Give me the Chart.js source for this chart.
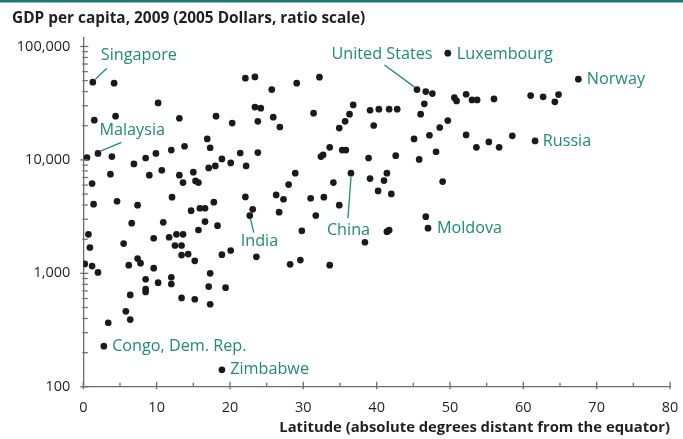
<!DOCTYPE html>
<html><head><meta charset="utf-8">
<script src="https://cdn.jsdelivr.net/npm/chart.js@4.4.0/dist/chart.umd.min.js"></script>
<style>html,body{margin:0;padding:0;background:#fff;}#wrap{width:683px;height:439px;position:relative;}</style>
</head><body><div id="wrap"><canvas id="c"></canvas></div>
<script>
// ---- data (latitude in absolute degrees, GDP per capita 2005 $) ----
const latitude = [4.2,10.2,1.5,4.4,13.1,18.1,20.3,16.9,17.3,13.8,12.0,9.9,8.5,0.5,3.9,18.9,21.4,22.1,23.4,25.7,29.1,32.2,23.4,24.2,23.8,25.9,26.8,31.4,36.8,36.3,35.7,34.9,39.1,40.3,41.7,39.6,23.8,33.6,32.7,32.4,35.3,35.8,38.9,46.7,47.6,46.5,46.0,42.8,50.6,50.9,52.2,53.0,53.7,56.0,61.0,49.7,48.6,47.2,45.1,52.2,58.5,55.3,53.6,56.7,48.1,42.6,45.8,62.7,64.3,64.8,6.9,3.7,1.2,9.0,10.7,13.1,13.6,15.0,15.3,15.7,17.1,18.0,20.1,1.4,4.6,7.4,12.1,14.7,15.9,16.6,17.8,6.6,10.9,16.6,15.7,18.3,0.7,0.9,5.5,9.6,11.7,12.7,13.6,12.5,13.4,13.4,14.3,15.2,18.9,20.1,0.2,1.2,2.0,6.2,7.4,7.8,9.6,17.3,8.5,12.0,22.2,28.9,28.0,34.1,39.1,41.0,41.4,40.2,42.0,22.1,26.3,27.3,31.0,32.8,34.9,23.1,26.7,31.7,29.8,38.4,41.4,41.7,23.6,28.2,29.6,33.6,49.0,46.7,8.5,8.5,6.4,5.8,6.4,3.4,10.2,12.0,13.4,15.2,17.1,17.3,19.4];
const gdpPerCapita = [47500,31800,22400,24300,23300,24300,21100,15300,12800,13200,12200,11400,10400,10500,10700,10200,11500,52500,53900,41700,47500,53600,29200,28600,21900,23800,19500,25800,30500,25300,21900,19100,27400,28000,28000,20100,11600,12900,11100,10700,12200,12200,10400,40000,38400,31200,25300,28000,35400,33100,37900,33800,33800,34500,36900,22200,19300,16500,15300,16600,16300,14400,12900,12900,11800,10900,10100,36000,32500,37700,9220,7480,6180,7330,8110,7330,6310,7790,6530,6310,8500,8850,9410,4070,4320,3990,4690,3570,3750,3750,4240,2770,2820,2860,2410,2630,2210,1690,1830,2040,2080,2210,2210,1760,1760,1450,1480,1290,1460,1590,1210,1160,1020,1180,1350,1230,1110,1000,887,924,8850,7640,6060,6310,6840,6570,7640,5330,5010,4720,4910,4500,4590,4690,3990,3670,3460,3230,2370,1880,2330,2400,1400,1200,1310,1180,6440,3160,728,686,645,463,391,367,828,806,607,591,764,534,748];
const labelCountries = ['Singapore','Malaysia','United States','Luxembourg','Norway','Russia','China','India','Moldova','Congo, Dem. Rep.','Zimbabwe'];
const labelLatitude = [1.3,2.0,45.5,49.7,67.5,61.6,36.5,22.7,47.0,2.8,18.9];
const labelGdp = [48400,11400,41700,87300,51500,14700,7640,3230,2500,228,141];
const xTickValues = [0,10,20,30,40,50,60,70,80];
const yMajorTicks = [100,1000,10000,100000];
const chartTitle = 'GDP per capita, 2009 (2005 Dollars, ratio scale)';
const xAxisTitle = 'Latitude (absolute degrees distant from the equator)';

// ---- label placement (pixel offsets from the point) ----
const labelLayout = {
  'Singapore':        {dx:8,   dy:-27, align:'left',   line:[2.5,-3,14,-14]},
  'Malaysia':         {dx:1.5, dy:-23, align:'left',   line:[2,-2,23.5,-11]},
  'United States':    {dx:-35, dy:-35, align:'center', line:[-32.5,-24.5,-2.7,-2.7]},
  'Luxembourg':       {dx:9,   dy:1,   align:'left'},
  'Norway':           {dx:8.5, dy:0.5, align:'left'},
  'Russia':           {dx:7.7, dy:0,   align:'left'},
  'China':            {dx:-2.5,dy:57,  align:'center', line:[0,4,-3,45]},
  'India':            {dx:9.7, dy:25.5,align:'center', line:[0.7,3,4,17]},
  'Moldova':          {dx:9,   dy:0.5, align:'left'},
  'Congo, Dem. Rep.': {dx:8.3, dy:0,   align:'left'},
  'Zimbabwe':         {dx:8.3, dy:0,   align:'left'}
};

const TEAL = '#1f8a78';
const AXIS = '#6d6e70';
const TXT = '#231f20';

const points = latitude.map((x,i)=>({x, y:gdpPerCapita[i]}))
  .concat(labelLatitude.map((x,i)=>({x, y:labelGdp[i]})));

function yTickList(){
  const out=[];
  for(let d=100; d<=100000; d*=10){
    for(let m=1;m<=9;m++){ const v=d*m; if(v<=100000) out.push({value:v, major:m===1}); }
  }
  return out;
}

const decorPlugin = {
  id:'decor',
  beforeDraw(chart){
    const ctx=chart.ctx;
    ctx.save();
    ctx.fillStyle='#1c7a6c';
    ctx.fillRect(0,0,chart.width,2.5);
    ctx.restore();
  },
  afterDraw(chart){
    const ctx=chart.ctx, xs=chart.scales.x, ys=chart.scales.y;
    const ax=xs.left, ay=ys.bottom;
    ctx.save();
    ctx.strokeStyle=AXIS; ctx.lineWidth=1.3;
    for(let v=0; v<=80; v+=5){
      const px=xs.getPixelForValue(v);
      const major = v%10===0;
      ctx.beginPath();
      ctx.moveTo(px, ay+(major?2.5:0));
      ctx.lineTo(px, ay-(major?5:4));
      ctx.stroke();
    }
    yTickList().forEach(t=>{
      const py=ys.getPixelForValue(t.value);
      ctx.beginPath();
      ctx.moveTo(ax-(t.major?3:1), py);
      ctx.lineTo(ax+(t.major?5:4.5), py);
      ctx.stroke();
    });
    ctx.restore();
  },
  afterDatasetsDraw(chart){
    const ctx=chart.ctx, xs=chart.scales.x, ys=chart.scales.y;
    ctx.save();
    ctx.font='16.2px "Open Sans", sans-serif';
    ctx.fillStyle=TEAL; ctx.strokeStyle=TEAL; ctx.lineWidth=1.3;
    ctx.textBaseline='middle';
    labelCountries.forEach((name,i)=>{
      const L=labelLayout[name];
      const px=xs.getPixelForValue(labelLatitude[i]);
      const py=ys.getPixelForValue(labelGdp[i]);
      ctx.textAlign=L.align;
      ctx.fillText(name, px+L.dx, py+L.dy);
      if(L.line){
        ctx.beginPath();
        ctx.moveTo(px+L.line[0], py+L.line[1]);
        ctx.lineTo(px+L.line[2], py+L.line[3]);
        ctx.stroke();
      }
    });
    ctx.restore();
  }
};

new Chart(document.getElementById('c'), {
  type:'scatter',
  data:{datasets:[{
    data:points,
    pointRadius:3.35, pointHoverRadius:3.35,
    pointBackgroundColor:'#1a1a1a', pointBorderWidth:0, borderWidth:0
  }]},
  options:{
    responsive:true, maintainAspectRatio:false, animation:false,
    layout:{padding:{left:12, right:13, top:0, bottom:0}},
    plugins:{
      legend:{display:false}, tooltip:{enabled:false},
      title:{display:true, text:chartTitle, align:'start', color:TXT,
        font:{family:'"Open Sans", sans-serif', size:15.4, weight:'bold'},
        padding:{top:9.5, bottom:9.5}}
    },
    scales:{
      x:{type:'linear', min:0, max:80,
        afterBuildTicks(s){ s.ticks = xTickValues.map(v=>({value:v})); },
        grid:{display:false, drawTicks:false},
        border:{display:true, color:AXIS, width:1.3},
        ticks:{color:TXT, padding:12, font:{family:'"Open Sans", sans-serif', size:14.5}, autoSkip:false, maxRotation:0},
        title:{display:true, text:xAxisTitle, align:'end', color:TXT,
          font:{family:'"Open Sans", sans-serif', size:14.8, weight:'bold'}, padding:{top:0,bottom:2}},
        afterFit(s){ s.height = 52.2; s.paddingLeft = 0; s.paddingRight = 0; }
      },
      y:{type:'logarithmic', min:100, max:120000,
        afterBuildTicks(s){ s.ticks = yTickList(); },
        grid:{display:false, drawTicks:false},
        border:{display:true, color:AXIS, width:1.3},
        ticks:{color:TXT, padding:13, autoSkip:false,
          font:{family:'"Open Sans", sans-serif', size:14.5},
          callback(v){ return yMajorTicks.includes(v) ? v.toLocaleString('en-US') : ''; }},
        afterFit(s){ s.width = 71.3; }
      }
    }
  },
  plugins:[decorPlugin]
});
</script></body></html>
